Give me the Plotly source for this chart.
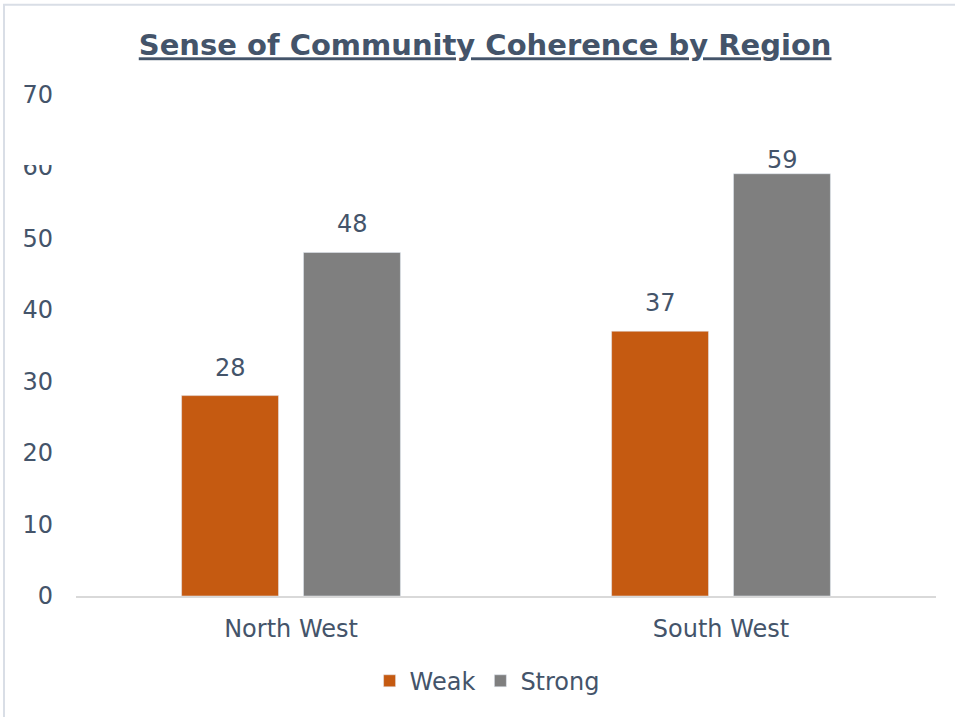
import plotly.graph_objects as go

regions = ["North West", "South West"]
weak = [28, 37]
strong = [48, 59]
y_ticks = [0, 10, 20, 30, 40, 50, 60, 70]

TEXT = "#44546A"
FONT = "DejaVu Sans"
SIZE = 24

fig = go.Figure()
fig.add_trace(go.Bar(name="Weak", x=regions, y=weak, marker_color="#C55A11"))
fig.add_trace(go.Bar(name="Strong", x=regions, y=strong, marker_color="#7F7F7F"))

# value labels above each bar (offset to the bar's slot within its group);
# labels near the top of the axis sit closer to their bar
for series, shift in ((weak, -61), (strong, 61)):
    for region, value in zip(regions, series):
        fig.add_annotation(
            x=region, y=value, xref="x", yref="y", text=str(value),
            showarrow=False, xshift=shift, yanchor="bottom",
            yshift=12 if value < 55 else -2,
            font=dict(family=FONT, size=SIZE, color=TEXT),
        )

fig.update_layout(
    width=955, height=717,
    margin=dict(l=76, r=19, t=95, b=121),
    paper_bgcolor="white", plot_bgcolor="white",
    font=dict(family=FONT, size=SIZE, color=TEXT),
    title=dict(
        text="<b><u>Sense of Community Coherence by Region</u></b>",
        font=dict(family=FONT, size=29, color=TEXT),
        x=0.508, xanchor="center", y=0.937, yanchor="middle",
    ),
    barmode="group", bargap=0.433, bargroupgap=0.205,
    showlegend=True,
    legend=dict(
        orientation="h", x=0.478, xanchor="center", y=-0.17, yanchor="middle",
        font=dict(family=FONT, size=SIZE, color=TEXT),
        itemwidth=30,
    ),
    xaxis=dict(
        showline=True, linecolor="#D9D9D9", linewidth=1.5,
        ticks="", showgrid=False, ticklabelstandoff=10,
        tickfont=dict(family=FONT, size=SIZE, color=TEXT),
    ),
    yaxis=dict(
        range=[0, 70], tickvals=y_ticks, showgrid=False, zeroline=False,
        showline=False, ticks="", ticklabelstandoff=22,
        tickfont=dict(family=FONT, size=SIZE, color=TEXT),
    ),
)

# light chart-area border along the top and left edges
fig.add_shape(
    type="rect", xref="paper", yref="paper",
    x0=-0.0837, x1=1.2, y0=-0.6, y1=1.18,
    line=dict(color="#D9DEE6", width=2), fillcolor="rgba(0,0,0,0)",
    layer="below",
)

# white strip trimming the top of the "60" tick label
fig.add_shape(
    type="rect", xref="paper", yref="paper",
    x0=-0.07, x1=-0.02, y0=(596 - 165) / 501, y1=(596 - 148) / 501,
    line=dict(width=0), fillcolor="white", layer="above",
)

fig.write_html("out.html")
